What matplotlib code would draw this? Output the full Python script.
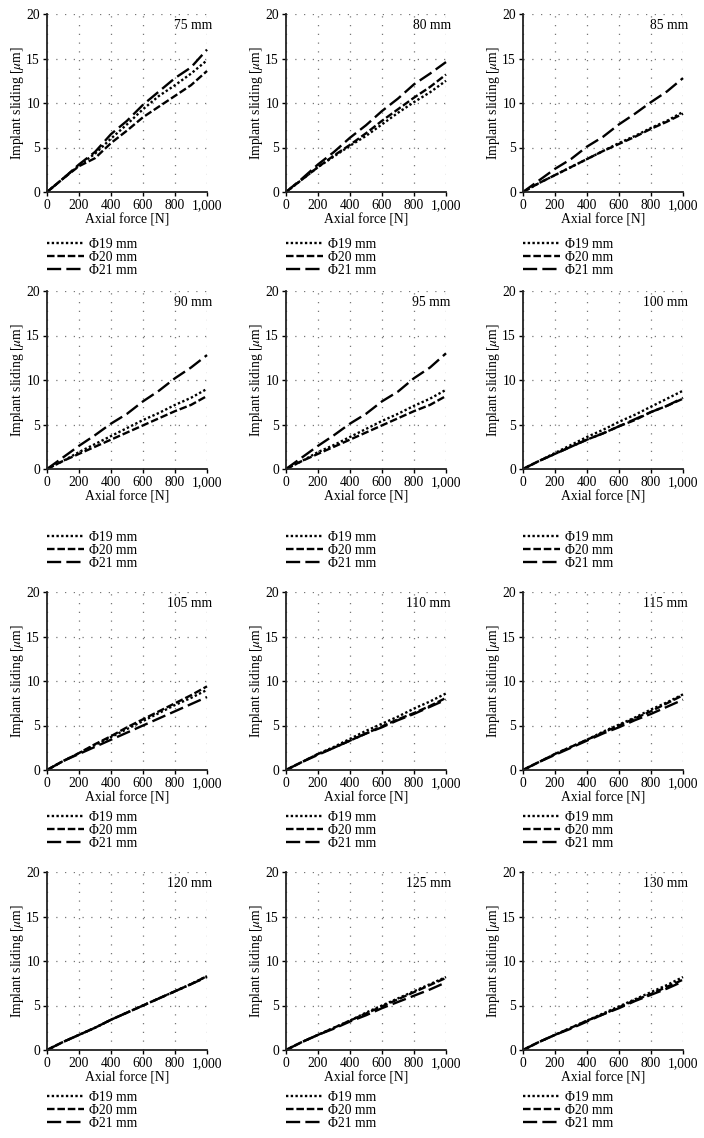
import matplotlib
matplotlib.use("Agg")
import matplotlib.pyplot as plt
from matplotlib.ticker import FuncFormatter

plt.rcParams['font.family'] = ['Liberation Serif', 'DejaVu Serif']
plt.rcParams['mathtext.fontset'] = 'stix'

force = [0, 100, 200, 300, 400, 500, 600, 700, 800, 900, 1000]
lengths = ["75 mm", "80 mm", "85 mm", "90 mm", "95 mm", "100 mm",
           "105 mm", "110 mm", "115 mm", "120 mm", "125 mm", "130 mm"]
series_labels = ["Φ19 mm", "Φ20 mm", "Φ21 mm"]

phi19 = [
    [0, 1.5, 3.0, 4.3, 6.0, 7.6, 9.3, 10.8, 12.0, 13.3, 14.8],
    [0, 1.4, 2.8, 4.0, 5.2, 6.3, 7.6, 8.9, 10.1, 11.2, 12.5],
    [0, 1.0, 1.9, 2.8, 3.7, 4.6, 5.5, 6.3, 7.2, 8.0, 9.0],
    [0, 0.9, 1.9, 2.8, 3.7, 4.6, 5.5, 6.3, 7.2, 8.0, 9.0],
    [0, 0.9, 1.9, 2.7, 3.6, 4.5, 5.4, 6.2, 7.1, 7.9, 8.9],
    [0, 0.9, 1.8, 2.7, 3.6, 4.4, 5.3, 6.1, 7.0, 7.9, 8.8],
    [0, 1.0, 1.9, 2.8, 3.7, 4.6, 5.5, 6.4, 7.3, 8.1, 9.0],
    [0, 0.9, 1.8, 2.6, 3.5, 4.4, 5.2, 6.0, 6.9, 7.7, 8.6],
    [0, 0.9, 1.8, 2.6, 3.4, 4.3, 5.1, 5.9, 6.8, 7.6, 8.5],
    [0, 0.9, 1.7, 2.5, 3.4, 4.2, 5.0, 5.8, 6.6, 7.4, 8.3],
    [0, 0.9, 1.7, 2.5, 3.3, 4.2, 5.0, 5.8, 6.6, 7.4, 8.2],
    [0, 0.9, 1.7, 2.5, 3.3, 4.1, 4.9, 5.7, 6.5, 7.3, 8.2],
]
phi20 = [
    [0, 1.5, 2.9, 3.8, 5.5, 6.9, 8.4, 9.6, 10.8, 12.0, 13.6],
    [0, 1.4, 2.8, 4.1, 5.3, 6.6, 8.0, 9.3, 10.6, 11.8, 13.2],
    [0, 1.0, 1.9, 2.8, 3.7, 4.6, 5.4, 6.2, 7.1, 7.9, 8.8],
    [0, 0.9, 1.7, 2.5, 3.3, 4.1, 4.9, 5.7, 6.5, 7.2, 8.2],
    [0, 0.9, 1.7, 2.5, 3.3, 4.1, 4.9, 5.7, 6.5, 7.2, 8.2],
    [0, 0.9, 1.7, 2.5, 3.3, 4.0, 4.8, 5.5, 6.4, 7.1, 7.9],
    [0, 1.0, 1.9, 2.9, 3.8, 4.8, 5.7, 6.6, 7.5, 8.4, 9.4],
    [0, 0.9, 1.8, 2.5, 3.3, 4.1, 4.9, 5.7, 6.4, 7.2, 8.1],
    [0, 0.9, 1.8, 2.6, 3.4, 4.2, 5.0, 5.8, 6.6, 7.5, 8.4],
    [0, 0.9, 1.7, 2.5, 3.4, 4.2, 5.0, 5.8, 6.6, 7.4, 8.3],
    [0, 0.9, 1.7, 2.5, 3.3, 4.1, 4.9, 5.7, 6.5, 7.3, 8.1],
    [0, 0.9, 1.7, 2.5, 3.3, 4.0, 4.8, 5.6, 6.3, 7.1, 7.9],
]
phi21 = [
    [0, 1.5, 3.1, 4.5, 6.5, 8.0, 9.8, 11.3, 12.8, 14.0, 16.0],
    [0, 1.5, 3.1, 4.5, 6.1, 7.5, 9.1, 10.5, 12.1, 13.3, 14.6],
    [0, 1.3, 2.6, 3.7, 5.1, 6.2, 7.6, 8.8, 10.1, 11.3, 12.8],
    [0, 1.3, 2.6, 3.8, 5.1, 6.2, 7.6, 8.8, 10.2, 11.4, 12.8],
    [0, 1.3, 2.6, 3.8, 5.1, 6.2, 7.6, 8.7, 10.2, 11.4, 13.0],
    [0, 0.9, 1.7, 2.5, 3.3, 4.0, 4.8, 5.6, 6.4, 7.1, 8.0],
    [0, 1.0, 1.8, 2.6, 3.4, 4.2, 5.0, 5.8, 6.6, 7.4, 8.2],
    [0, 0.9, 1.7, 2.5, 3.3, 4.1, 4.8, 5.6, 6.3, 7.1, 7.9],
    [0, 0.9, 1.7, 2.5, 3.3, 4.1, 4.8, 5.6, 6.3, 7.1, 7.9],
    [0, 0.9, 1.7, 2.5, 3.4, 4.2, 5.0, 5.8, 6.6, 7.4, 8.2],
    [0, 0.9, 1.7, 2.4, 3.2, 3.9, 4.7, 5.4, 6.1, 6.8, 7.6],
    [0, 0.9, 1.7, 2.4, 3.2, 4.0, 4.7, 5.5, 6.2, 6.9, 7.7],
]

W, H = 704, 1138
fig = plt.figure(figsize=(W / 100, H / 100), dpi=100)

col_left = [47, 286, 523]
row_top = [14, 291, 592, 872]
legend_gap = [51, 67, 46, 46]
aw, ah = 160, 178
fs = 9.8

styles = [(0, (1, 1)), (0, (3.2, 1.2)), (0, (6, 2.2))]

fmt = FuncFormatter(lambda v, p: f"{int(v):,}")

for i in range(12):
    r, c = divmod(i, 3)
    x0 = col_left[c]
    y0 = row_top[r]
    ax = fig.add_axes([x0 / W, 1 - (y0 + ah) / H, aw / W, ah / H])
    data = [phi19[i], phi20[i], phi21[i]]
    for d, ls, lab in zip(data, styles, series_labels):
        ax.plot(force, d, color='black', lw=1.7, linestyle=ls, label=lab,
                clip_on=False)
    ax.set_xlim(0, 1000)
    ax.set_ylim(0, 20)
    ax.set_xticks([0, 200, 400, 600, 800, 1000])
    ax.set_yticks([0, 5, 10, 15, 20])
    ax.xaxis.set_major_formatter(fmt)
    ax.grid(True, color='#777777', linestyle=(0, (1, 6)), lw=0.9)
    for s in ['top', 'right']:
        ax.spines[s].set_visible(False)
    for s in ['left', 'bottom']:
        ax.spines[s].set_linewidth(1.3)
        ax.spines[s].set_color('#222222')
    ax.tick_params(labelsize=fs, length=3, width=1, pad=2)
    ax.set_xlabel("Axial force [N]", fontsize=fs, labelpad=1)
    ax.set_ylabel(r"Implant sliding [$\mu$m]", fontsize=fs, labelpad=0)
    ax.text(1.03, 0.97, lengths[i], transform=ax.transAxes, ha='right',
            va='top', fontsize=fs)
    gap = legend_gap[r]
    ax.legend(loc='upper left',
              bbox_to_anchor=(0.0, -(gap - 5) / ah),
              frameon=False, fontsize=fs, handlelength=2.75,
              handletextpad=0.3, labelspacing=0.0, borderpad=0,
              borderaxespad=0)

fig.savefig("out.png", dpi=100)
